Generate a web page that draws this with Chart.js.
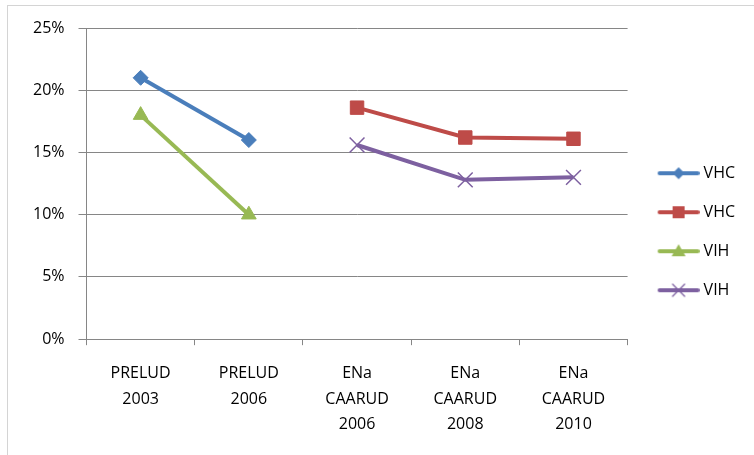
<!DOCTYPE html>
<html>
<head>
<meta charset="utf-8">
<script src="https://cdn.jsdelivr.net/npm/chart.js@4.4.0/dist/chart.umd.min.js"></script>
<style>
    body { margin: 0; background: #fff; }
    #wrap { position: relative; width: 754px; height: 455px; overflow: hidden; }
    #frame { position: absolute; left: 7px; top: 5px; width: 770px; height: 470px; border: 1px solid #d4d4d4; box-sizing: border-box; }
    #myChart { position: absolute; left: 0; top: 0; }
</style>
</head>
<body>
<div id="wrap">
    <div id="frame"></div>
    <canvas id="myChart" width="754" height="455"></canvas>
</div>
<script>
const categories = [['PRELUD', '2003'], ['PRELUD', '2006'], ['ENa', 'CAARUD', '2006'], ['ENa', 'CAARUD', '2008'], ['ENa', 'CAARUD', '2010']];
const seriesNames = ['VHC', 'VHC', 'VIH', 'VIH'];
const vhcPrelud = [21, 16, null, null, null];
const vhcEna = [null, null, 18.6, 16.2, 16.1];
const vihPrelud = [18, 10, null, null, null];
const vihEna = [null, null, 15.6, 12.8, 13.0];
const yTicks = [0, 5, 10, 15, 20, 25];

const FONT = '"Open Sans", "Noto Sans", sans-serif';

// small line + marker picture for the legend
function legendIcon(color, kind) {
    const c = document.createElement('canvas');
    c.width = 53; c.height = 16;
    const g = c.getContext('2d');
    const cy = 8, cx = 11 + 21;
    g.strokeStyle = color;
    g.lineWidth = 4;
    g.lineCap = 'round';
    g.beginPath(); g.moveTo(13, cy); g.lineTo(51, cy); g.stroke();
    g.fillStyle = color;
    g.beginPath();
    if (kind === 'diamond') {
        g.moveTo(cx, cy - 6); g.lineTo(cx + 6, cy); g.lineTo(cx, cy + 6); g.lineTo(cx - 6, cy);
        g.fill();
    } else if (kind === 'square') {
        g.fillRect(cx - 6, cy - 6, 12, 12);
    } else if (kind === 'triangle') {
        g.moveTo(cx, cy - 7); g.lineTo(cx + 7, cy + 5); g.lineTo(cx - 7, cy + 5);
        g.fill();
    } else {
        g.lineWidth = 1.3;
        g.moveTo(cx - 6, cy - 6); g.lineTo(cx + 6, cy + 6);
        g.moveTo(cx + 6, cy - 6); g.lineTo(cx - 6, cy + 6);
        g.stroke();
    }
    return c;
}

const colors = ['#4a7ebb', '#be4b48', '#98b954', '#7d60a0'];
const icons = [
    legendIcon(colors[0], 'diamond'),
    legendIcon(colors[1], 'square'),
    legendIcon(colors[2], 'triangle'),
    legendIcon(colors[3], 'cross')
];

function lineSet(label, values, color, style, radius, borderW) {
    return {
        label: label,
        data: values,
        borderColor: color,
        backgroundColor: color,
        borderWidth: 4,
        pointStyle: style,
        pointRadius: radius,
        pointHoverRadius: radius,
        pointBorderWidth: borderW,
        pointBorderColor: color,
        pointBackgroundColor: color,
        spanGaps: false,
        tension: 0
    };
}

function drawChart() {
    const ctx = document.getElementById('myChart').getContext('2d');
    new Chart(ctx, {
        type: 'line',
        data: {
            labels: categories,
            datasets: [
                lineSet(seriesNames[0], vhcPrelud, colors[0], 'rectRot', 7.5, 1),
                lineSet(seriesNames[1], vhcEna, colors[1], 'rect', 9.5, 1),
                lineSet(seriesNames[2], vihPrelud, colors[2], 'triangle', 8.5, 1),
                lineSet(seriesNames[3], vihEna, colors[3], 'crossRot', 10.5, 1.5)
            ]
        },
        options: {
            responsive: false,
            devicePixelRatio: 1,
            animation: false,
            layout: { padding: { left: 19, top: 28, right: 9, bottom: 2 } },
            plugins: {
                tooltip: { enabled: false },
                legend: {
                    position: 'right',
                    align: 'start',
                    // empty title only used as a spacer to push the items down
                    title: { display: true, text: ' ', font: { size: 1 }, padding: { top: 0, bottom: 113 } },
                    labels: {
                        usePointStyle: true,
                        pointStyleWidth: 45,
                        padding: 23,
                        color: '#000',
                        font: { family: FONT, size: 16 },
                        generateLabels: function (chart) {
                            const items = Chart.defaults.plugins.legend.labels.generateLabels(chart);
                            items.forEach((it, i) => { it.pointStyle = icons[i]; });
                            return items;
                        }
                    }
                }
            },
            scales: {
                x: {
                    offset: true,
                    grid: { offset: true, drawOnChartArea: false, tickLength: 6, color: '#868686', lineWidth: 1 },
                    border: { color: '#868686', width: 1 },
                    ticks: {
                        color: '#000',
                        padding: 16,
                        maxRotation: 0,
                        autoSkip: false,
                        font: { family: FONT, size: 16, lineHeight: 1.58 }
                    }
                },
                y: {
                    min: 0,
                    max: 25,
                    afterBuildTicks: function (axis) {
                        axis.ticks = yTicks.map(v => ({ value: v }));
                    },
                    grid: { color: '#868686', lineWidth: 1, tickLength: 8 },
                    border: { color: '#868686', width: 1 },
                    ticks: {
                        color: '#000',
                        padding: 14,
                        font: { family: FONT, size: 16 },
                        callback: v => v + '%'
                    }
                }
            }
        }
    });
}
drawChart();
</script>
</body>
</html>
